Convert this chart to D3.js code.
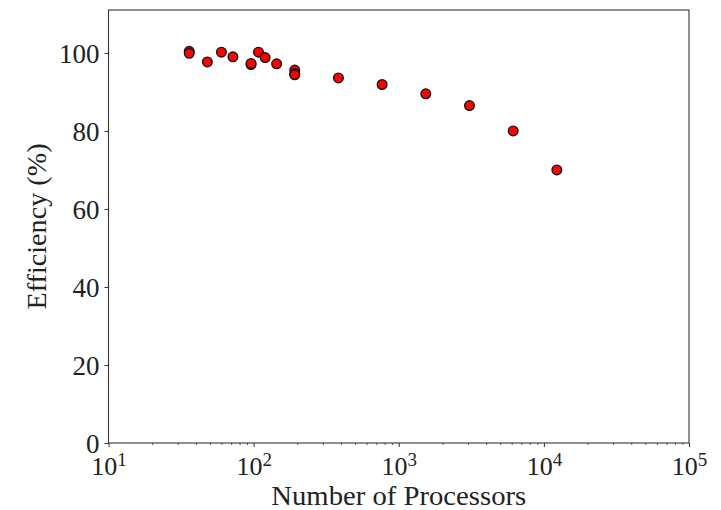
<!DOCTYPE html>
<html>
<head>
<meta charset="utf-8">
<script src="https://cdn.jsdelivr.net/npm/d3@7"></script>
<style>
  html, body { margin: 0; padding: 0; background: #fff; }
  svg { display: block; }
  .tick text, .lbl { font-family: "Liberation Serif", "DejaVu Serif", serif; fill: #222; }
</style>
</head>
<body>
<svg id="chart" width="721" height="510"></svg>
<script>
// Parallel efficiency against processor count
const processors = [36, 36, 48, 60, 72, 96, 96, 108, 120, 144, 192, 192, 192, 384, 768, 1536, 3072, 6144, 12288];
const efficiency = [100.4, 99.9, 97.7, 100.2, 99.0, 97.0, 97.3, 100.2, 98.8, 97.2, 95.6, 94.7, 94.4, 93.6, 91.9, 89.5, 86.5, 80.0, 70.0];
const yTicks = [0, 20, 40, 60, 80, 100];
const xDecades = [1, 2, 3, 4, 5];

const svg = d3.select("#chart");
const margin = { left: 108.5, right: 32, top: 10, bottom: 67 };
const W = 721, H = 510;
const plotW = W - margin.left - margin.right;
const plotH = H - margin.top - margin.bottom;

const x = d3.scaleLog().domain([10, 1e5]).range([0, plotW]);
const y = d3.scaleLinear().domain([0, 111]).range([plotH, 0]);

const g = svg.append("g").attr("transform", `translate(${margin.left},${margin.top})`);

// y axis
const yAxis = d3.axisLeft(y).tickValues(yTicks).tickSize(4).tickPadding(5).tickFormat(d3.format("d"));
const gy = g.append("g").call(yAxis);
gy.select(".domain").remove();
gy.selectAll(".tick line").attr("stroke", "#333").attr("stroke-width", 1);
gy.selectAll(".tick text").attr("font-size", 27).attr("dy", "0.34em");

// x axis: major decades
const xMajor = d3.axisBottom(x).tickValues(xDecades.map(p => Math.pow(10, p))).tickSize(4).tickFormat("");
const gx = g.append("g").attr("transform", `translate(0,${plotH})`).call(xMajor);
gx.select(".domain").remove();
gx.selectAll(".tick line").attr("stroke", "#333").attr("stroke-width", 1);
gx.selectAll(".tick").each(function(d) {
  const t = d3.select(this).append("text")
    .attr("y", 32).attr("text-anchor", "middle").attr("font-size", 26);
  t.append("tspan").text("10");
  t.append("tspan").attr("dy", "-0.45em").attr("font-size", 19).text(Math.round(Math.log10(d)));
});

// x axis: minor ticks
const minor = [];
for (let p = 1; p < 5; p++) for (let k = 2; k <= 9; k++) minor.push(k * Math.pow(10, p));
const xMinor = d3.axisBottom(x).tickValues(minor).tickSize(2).tickFormat("");
const gxm = g.append("g").attr("transform", `translate(0,${plotH})`).call(xMinor);
gxm.select(".domain").remove();
gxm.selectAll(".tick line").attr("stroke", "#333").attr("stroke-width", 0.8);

// frame
g.append("rect").attr("x", 0).attr("y", 0).attr("width", plotW).attr("height", plotH)
  .attr("fill", "none").attr("stroke", "#333").attr("stroke-width", 1.1);

// points
g.append("g").selectAll("circle")
  .data(processors.map((n, i) => ({ n, e: efficiency[i] })))
  .join("circle")
  .attr("cx", d => x(d.n))
  .attr("cy", d => y(d.e))
  .attr("r", 4.8)
  .attr("fill", "#ff0000")
  .attr("stroke", "#111")
  .attr("stroke-width", 1.4);

// axis labels
svg.append("text").attr("class", "lbl")
  .attr("x", margin.left + plotW / 2).attr("y", 505)
  .attr("text-anchor", "middle").attr("font-size", 27)
  .attr("textLength", 255).attr("lengthAdjust", "spacingAndGlyphs")
  .text("Number of Processors");
svg.append("text").attr("class", "lbl")
  .attr("transform", `translate(46,${margin.top + plotH / 2}) rotate(-90)`)
  .attr("text-anchor", "middle").attr("font-size", 28)
  .attr("textLength", 166).attr("lengthAdjust", "spacingAndGlyphs")
  .text("Efficiency (%)");
</script>
</body>
</html>
